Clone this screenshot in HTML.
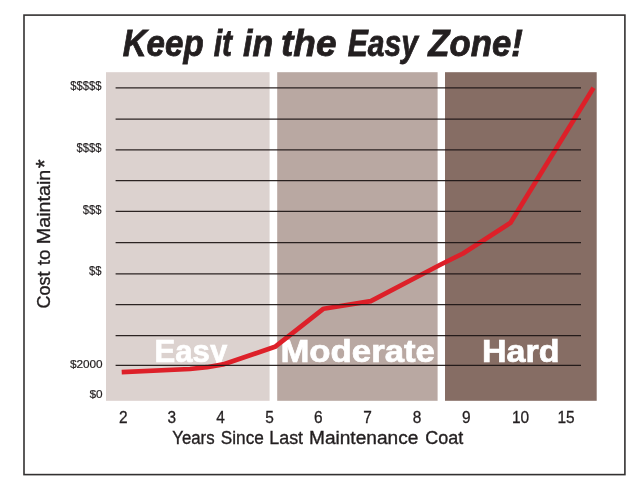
<!DOCTYPE html>
<html>
<head>
<meta charset="utf-8">
<title>Keep it in the Easy Zone!</title>
<style>
html,body{margin:0;padding:0;background:#fff;}
body{width:644px;height:492px;overflow:hidden;}
svg{display:block;}
text{font-family:"Liberation Sans",sans-serif;fill:#231f20;}
</style>
</head>
<body>
<svg width="644" height="492" viewBox="0 0 644 492">
  <rect x="0" y="0" width="644" height="492" fill="#ffffff"/>
  <!-- frame -->
  <rect x="24" y="15.1" width="600.9" height="459.5" fill="none" stroke="#333131" stroke-width="1.6"/>
  <!-- zones -->
  <rect x="106" y="72.2" width="163.6" height="328.6" fill="#dcd2cf"/>
  <rect x="277.2" y="72.2" width="160.4" height="328.6" fill="#b9a8a2"/>
  <rect x="445" y="72.2" width="151.7" height="328.6" fill="#866d64"/>
  <!-- zone labels -->
  <clipPath id="c"><rect x="100" y="300" width="500" height="65.4"/></clipPath>
  <g clip-path="url(#c)" font-weight="bold" font-size="31.2" stroke="#fff" stroke-width="0.7">
    <text x="154.6" y="361.9" textLength="72.6" lengthAdjust="spacingAndGlyphs" style="fill:#fff">Easy</text>
    <text x="280.4" y="361.9" textLength="154.5" lengthAdjust="spacingAndGlyphs" style="fill:#fff">Moderate</text>
    <text x="482" y="361.9" textLength="77.6" lengthAdjust="spacingAndGlyphs" style="fill:#fff">Hard</text>
  </g>
  <!-- curve -->
  <polyline fill="none" stroke="#dd2029" stroke-width="4.7" stroke-linejoin="round" stroke-linecap="butt"
    points="121.7,372.2 190,369 207,367.2 223,364.4 275,346.8 323.6,308.7 370.8,301.1 439.8,265 463,253.5 510.5,222.8 593.5,87.8"/>
  <!-- gridlines -->
  <g stroke="#1c1514" stroke-width="1.25" opacity="0.92">
    <line x1="115.6" x2="581" y1="87.9" y2="87.9"/>
    <line x1="115.6" x2="581" y1="119.0" y2="119.0"/>
    <line x1="115.6" x2="581" y1="149.9" y2="149.9"/>
    <line x1="115.6" x2="581" y1="180.5" y2="180.5"/>
    <line x1="115.6" x2="581" y1="211.4" y2="211.4"/>
    <line x1="115.6" x2="581" y1="242.5" y2="242.5"/>
    <line x1="115.6" x2="581" y1="273.8" y2="273.8"/>
    <line x1="115.6" x2="581" y1="304.5" y2="304.5"/>
    <line x1="115.6" x2="581" y1="335.6" y2="335.6"/>
    <line x1="115.6" x2="581" y1="365.3" y2="365.3"/>
  </g>
  <!-- title -->
  <g font-size="36" font-weight="bold" font-style="italic" stroke="#231f20" stroke-width="0.8" stroke-linejoin="miter">
    <text><tspan x="122.7" y="55.7" textLength="81" lengthAdjust="spacingAndGlyphs">Keep</tspan> <tspan x="213.7" y="55.7" textLength="18.3" lengthAdjust="spacingAndGlyphs">it</tspan> <tspan x="243" y="55.7" textLength="30" lengthAdjust="spacingAndGlyphs">in</tspan> <tspan x="281" y="55.7" textLength="55.5" lengthAdjust="spacingAndGlyphs">the</tspan> <tspan x="347.8" y="55.7" textLength="70.3" lengthAdjust="spacingAndGlyphs">Easy</tspan> <tspan x="428.3" y="55.7" textLength="94.5" lengthAdjust="spacingAndGlyphs">Zone!</tspan></text>
  </g>
  <!-- y labels -->
  <g font-size="13.4" stroke="#231f20" stroke-width="0.2">
    <text x="70.2" y="89.9" textLength="31.2" lengthAdjust="spacingAndGlyphs">$$$$$</text>
    <text x="76.5" y="151.7" textLength="24.96" lengthAdjust="spacingAndGlyphs">$$$$</text>
    <text x="82.8" y="213.5" textLength="18.72" lengthAdjust="spacingAndGlyphs">$$$</text>
    <text x="89" y="274.9" textLength="12.48" lengthAdjust="spacingAndGlyphs">$$</text>
  </g>
  <g font-size="11.8" text-anchor="end" stroke="#231f20" stroke-width="0.2">
    <text x="102.7" y="368">$2000</text>
    <text x="102.7" y="398.1">$0</text>
  </g>
  <!-- x labels -->
  <g font-size="17" text-anchor="middle" stroke="#231f20" stroke-width="0.3">
    <text x="123.4" y="422.7" textLength="8.6" lengthAdjust="spacingAndGlyphs">2</text>
    <text x="171.9" y="422.7" textLength="8.6" lengthAdjust="spacingAndGlyphs">3</text>
    <text x="220.5" y="422.7" textLength="8.6" lengthAdjust="spacingAndGlyphs">4</text>
    <text x="269.6" y="422.7" textLength="8.6" lengthAdjust="spacingAndGlyphs">5</text>
    <text x="318.4" y="422.7" textLength="8.6" lengthAdjust="spacingAndGlyphs">6</text>
    <text x="367.5" y="422.7" textLength="8.6" lengthAdjust="spacingAndGlyphs">7</text>
    <text x="417.1" y="422.7" textLength="8.6" lengthAdjust="spacingAndGlyphs">8</text>
    <text x="466.4" y="422.7" textLength="8.6" lengthAdjust="spacingAndGlyphs">9</text>
    <text x="520.5" y="422.7" textLength="17.2" lengthAdjust="spacingAndGlyphs">10</text>
    <text x="566" y="422.7" textLength="17.2" lengthAdjust="spacingAndGlyphs">15</text>
  </g>
  <g font-size="18" stroke="#231f20" stroke-width="0.35">
    <text><tspan x="172.3" y="444.2" textLength="42.3" lengthAdjust="spacingAndGlyphs">Years</tspan> <tspan x="220.8" y="444.2" textLength="43" lengthAdjust="spacingAndGlyphs">Since</tspan> <tspan x="269.3" y="444.2" textLength="33.8" lengthAdjust="spacingAndGlyphs">Last</tspan> <tspan x="309" y="444.2" textLength="109.3" lengthAdjust="spacingAndGlyphs">Maintenance</tspan> <tspan x="425.2" y="444.2" textLength="38" lengthAdjust="spacingAndGlyphs">Coat</tspan></text>
  </g>
  <g transform="translate(49.7,0) rotate(-90)" font-size="18" stroke="#231f20" stroke-width="0.35">
    <text><tspan x="-308.6" y="0" textLength="37" lengthAdjust="spacingAndGlyphs">Cost</tspan> <tspan x="-265.3" y="0" textLength="15.6" lengthAdjust="spacingAndGlyphs">to</tspan> <tspan x="-244.2" y="0" textLength="74.5" lengthAdjust="spacingAndGlyphs">Maintain</tspan><tspan x="-168.3" y="3.4" font-size="23">*</tspan></text>
  </g>
</svg>
</body>
</html>
